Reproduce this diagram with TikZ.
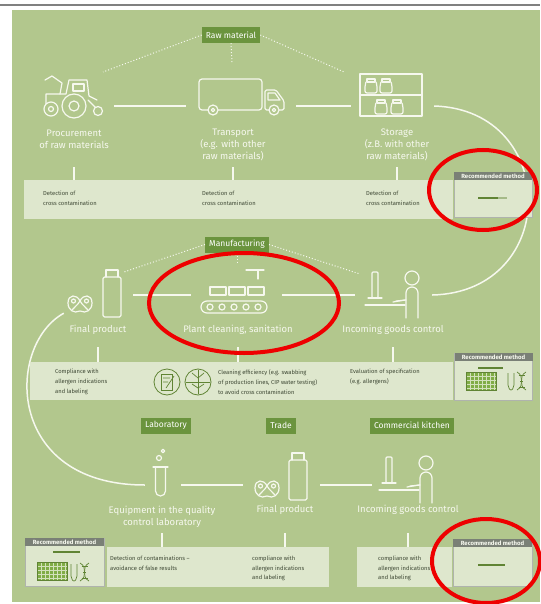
\documentclass[tikz,border=0pt]{standalone}
\usepackage{fontspec}
\setmainfont{Fira Sans}
\usetikzlibrary{arrows}

\begin{document}
\begin{tikzpicture}[x=1pt,y=-1pt]

\definecolor{leafgreen}{RGB}{178,199,141}
\definecolor{palegreen}{RGB}{222,231,205}
\definecolor{taggreen}{RGB}{107,148,62}
\definecolor{chalk}{RGB}{246,248,238}
\definecolor{inkgrey}{RGB}{62,72,52}
\definecolor{headgrey}{RGB}{122,128,118}
\definecolor{stripgreen}{RGB}{96,132,52}
\definecolor{wellgreen}{RGB}{128,172,70}
\definecolor{markred}{RGB}{238,0,0}

\useasboundingbox (0,0) rectangle (540,604);

% Page and panel
\fill[white] (0,0) rectangle (540,604);
\draw[gray, line width=2] (0,5) -- (540,5);
\fill[leafgreen] (12,10) rectangle (540,602);

\tikzset{
    stage tag/.style={
        fill=taggreen, text=white, font=\fontsize{8.5}{10}\selectfont,
        minimum height=16, inner xsep=4, inner ysep=0
    },
    stage label/.style={
        text=chalk, font=\fontsize{9.5}{12}\selectfont, align=center, inner sep=0
    },
    icon slot/.style={minimum height=36, inner sep=0},
    icon line/.style={draw=chalk, line width=1.2, line join=round, line cap=round},
    stage link/.style={draw=chalk, line width=2},
    loop line/.style={draw=chalk, line width=1.5},
    tag link/.style={draw=chalk, dotted, line width=1},
    stem line/.style={draw=chalk, line width=1.5},
    info box/.style={fill=palegreen, inner sep=0, anchor=north west},
    info text/.style={
        text=inkgrey, font=\fontsize{5.8}{9.8}\selectfont,
        align=left, anchor=west, inner sep=0
    },
    method box/.style={
        fill=palegreen, draw=headgrey!60, line width=0.8,
        minimum width=78, minimum height=46, inner sep=0, anchor=north
    },
    method head/.style={
        fill=headgrey, text=chalk, font=\fontsize{6}{6}\selectfont\bfseries,
        minimum width=78, minimum height=8, inner sep=0, anchor=north
    },
    strip/.style={draw=stripgreen, line width=1.6},
    fine/.style={draw=stripgreen, line width=0.7},
    red ring/.style={draw=markred, line width=4},
    % small pictograms
    jar/.pic={
        \draw[icon line] (-4,-7) rectangle (4,-4);
        \draw[icon line, rounded corners=2] (-5,-4) -- (-6,-1) -- (-6,7) -- (6,7) -- (6,-1) -- (5,-4);
    },
    pretzel/.pic={
        \draw[icon line] (0,-3) .. controls (-3,-10) and (-12,-10) .. (-12,-1)
            .. controls (-12,6) and (-6,10) .. (0,7)
            .. controls (6,10) and (12,6) .. (12,-1)
            .. controls (12,-10) and (3,-10) .. (0,-3);
        \draw[icon line] (0,-3) .. controls (-3,2) and (-6,3) .. (-8,6);
        \draw[icon line] (0,-3) .. controls (3,2) and (6,3) .. (8,6);
        \draw[icon line] (-6.5,-3) circle (2) (6.5,-3) circle (2);
    },
    bottle/.pic={
        \draw[icon line, rounded corners=1.5] (-9,-16) rectangle (9,24);
        \draw[icon line] (-6,-16) -- (-6,-23) -- (6,-23) -- (6,-16);
    },
    clerk/.pic={
        \draw[icon line, rounded corners=1] (-21,-22) rectangle (-15,4);
        \draw[icon line] (-25,4) -- (-11,4);
        \draw[icon line] (-28,11) -- (12,11);
        \draw[icon line] (0,8) -- (12,6);
        \draw[icon line] (19,-16) circle (7);
        \draw[icon line] (13,24) -- (13,-1) arc (180:360:6) -- (25,24);
        \draw[icon line] (13,6) -- (3,7);
    },
    plate/.pic={
        \fill[wellgreen] (-15,-9) rectangle (15,9);
        \foreach \gx in {-11,-7,...,13} \draw[chalk!70!wellgreen, line width=0.4] (\gx,-9) -- (\gx,9);
        \foreach \gy in {-5,-1,3,7} \draw[chalk!70!wellgreen, line width=0.4] (-15,\gy) -- (15,\gy);
        \draw[fine] (-15,-9) rectangle (15,9);
    },
    helix/.pic={
        \draw[fine, rounded corners=2] (-9,-8) -- (-9,6) -- (-6,10) -- (-3,6) -- (-3,-8);
        \draw[fine] (0,-9) .. controls (9,-4) and (0,4) .. (9,9);
        \draw[fine] (9,-9) .. controls (0,-4) and (9,4) .. (0,9);
        \draw[fine] (1.5,-6) -- (7.5,-6) (1.5,6) -- (7.5,6) (3,0) -- (6,0);
    }
}

% --- STAGE SLOTS (the rows hook onto these) ---
\node[icon slot, minimum width=80]  (procure)   at (74,106) {};
\node[icon slot, minimum width=110] (transport) at (241,106) {};
\node[icon slot, minimum width=83]  (storage)   at (392.5,106) {};

\node[icon slot, minimum width=80] (productA) at (93,295) {};
\node[icon slot, minimum width=91] (cleaning) at (236.5,295) {};
\node[icon slot, minimum width=77] (goodsA)   at (393.5,295) {};

\node[icon slot, minimum width=36] (labware)  at (163,485) {};
\node[icon slot, minimum width=77] (productB) at (281.5,485) {};
\node[icon slot, minimum width=68] (goodsB)   at (406,485) {};

% --- FLOW LINES ---
\draw[stage link] (procure) -- (transport);
\draw[stage link] (transport) -- (storage);
\draw[stage link] (productA) -- (cleaning);
\draw[stage link] (cleaning) -- (goodsA);
\draw[stage link] (labware) -- (productB);
\draw[stage link] (productB) -- (goodsB);

\draw[loop line] (storage.east) .. controls +(126,4) and +(128,-3) .. (goodsA.east);
\draw[loop line] ([xshift=11]productA.south west) .. controls +(-58,32) and +(-140,0) .. (labware.west);

% --- STAGE TAGS ---
\node[stage tag] (raw)     at (231,35)    {Raw material};
\node[stage tag] (manu)    at (237,244.5) {Manufacturing};
\node[stage tag] (lab)     at (166,425.5) {Laboratory};
\node[stage tag] (trade)   at (281,425.5) {Trade};
\node[stage tag] (kitchen) at (412,425.5) {Commercial kitchen};

\coordinate (rawL) at (103,72);
\coordinate (rawR) at (344,72);
\coordinate (rawD) at (232,63);
\draw[tag link] (raw.west) -- (rawL);
\draw[tag link] (raw.east) -- (rawR);
\draw[tag link] (raw.south) -- (rawD);

\coordinate (manuL) at (124,272);
\coordinate (manuR) at (360,274);
\coordinate (manuD) at (237,262);
\draw[tag link] (manu.west) -- (manuL);
\draw[tag link] (manu.east) -- (manuR);
\draw[tag link] (manu.south) -- (manuD);

% --- ICONS ---
% harvester
\draw[icon line] (46,104) -- (46,94) -- (66,94) -- (69,80) -- (87,80) -- (89,96) -- (97,100);
\draw[icon line] (73,84) rectangle (84,91);
\draw[icon line] (45,80) -- (52,76) -- (62,83) -- (60,94);
\draw[icon line] (88,100) -- (96,108);
\draw[icon line, fill=leafgreen] (51,109) circle (7);
\draw[icon line] (51,109) circle (2.5);
\draw[icon line, fill=leafgreen] (74,106) circle (12);
\draw[icon line] (74,106) circle (5);
\draw[icon line, fill=leafgreen] (98,111) circle (4.5);

% truck
\draw[icon line, rounded corners=3] (199,79) rectangle (262,110);
\draw[icon line, rounded corners=1.5] (265,110) -- (265,90) -- (276,90) -- (284,101) -- (284,110) -- cycle;
\draw[icon line] (268,93) -- (275,93) -- (280,100) -- (268,100) -- cycle;
\draw[icon line, fill=leafgreen] (213,110) circle (5);
\draw[icon line] (213,110) circle (1.8);
\draw[icon line, fill=leafgreen] (274,110) circle (5);
\draw[icon line] (274,110) circle (1.8);

% shelf with jars
\draw[icon line] (360,74) rectangle (422,116);
\draw[icon line] (360,95) -- (422,95);
\pic at (371,86) {jar};
\pic at (386,86) {jar};
\pic at (381,107) {jar};
\pic at (397,107) {jar};

% final product, manufacturing
\pic at (80,304) {pretzel};
\pic at (112,293) {bottle};

% conveyor
\draw[icon line] (246,270) -- (264,270) (258,270) -- (258,279);
\foreach \bx in {210,229,248} \draw[icon line] (\bx,287) rectangle ++(16,8);
\draw[icon line, rounded corners=6] (201,301) rectangle (267,313);
\foreach \rx in {210,222,234,246,258} \draw[icon line] (\rx,307) circle (3);

\pic at (393,294) {clerk};

% test tube
\draw[icon line] (153,467) -- (168,467);
\draw[icon line] (155.5,467) -- (155.5,491) arc (180:0:5) -- (165.5,467);
\draw[icon line] (159,458) circle (2.5) (163,451) circle (1.8);

% final product, trade
\pic at (267,489) {pretzel};
\pic at (298,476) {bottle};

\pic at (407,479) {clerk};

% --- STAGE LABELS ---
\node[stage label] (procureL)   at (74,139)  {Procurement\\of raw materials};
\node[stage label] (transportL) at (233,145) {Transport\\(e.g. with other\\raw materials)};
\node[stage label] (storageL)   at (397,145) {Storage\\(z.B. with other\\raw materials)};

\node[stage label] (productAL) at (98,330)  {Final product};
\node[stage label] (cleaningL) at (238,330) {Plant cleaning, sanitation};
\node[stage label] (goodsAL)   at (393,330) {Incoming goods control};

\node[stage label] (labwareL)  at (162,516.5) {Equipment in the quality\\control laboratory};
\node[stage label] (productBL) at (285,510)   {Final product};
\node[stage label] (goodsBL)   at (408,510)   {Incoming goods control};

% --- INFO STRIPS ---
\node[info box, minimum width=429, minimum height=39] (rawinfo)     at (24,180)  {};
\node[info box, minimum width=423, minimum height=38] (manuinfo)    at (30,362)  {};
\node[info box, minimum width=222, minimum height=40] (labinfo)     at (107,547) {};
\node[info box, minimum width=95,  minimum height=40] (kitcheninfo) at (357,547) {};

\draw[stem line] (procureL.south |- 0,167)   -- (procureL.south |- rawinfo.north);
\draw[stem line] (transportL.south |- 0,167) -- (transportL.south |- rawinfo.north);
\draw[stem line] (storageL.south |- 0,167)   -- (storageL.south |- rawinfo.north);

\draw[stem line] (productAL.south |- 0,347) -- (productAL.south |- manuinfo.north);
\draw[stem line] (cleaningL.south |- 0,347) -- (cleaningL.south |- manuinfo.north);
\draw[stem line] (goodsAL.south |- 0,347)   -- (goodsAL.south |- manuinfo.north);

\draw[stem line] (labwareL.south |- 0,533)  -- (labwareL.south |- labinfo.north);
\draw[stem line] (productBL.south |- 0,533) -- (productBL.south |- labinfo.north);
\draw[stem line] (goodsBL.south |- 0,533)   -- (goodsBL.south |- kitcheninfo.north);

\node[info text] (procureI)   at (43,198)  {Detection of\\cross contamination};
\node[info text] (transportI) at (202,198) {Detection of\\cross contamination};
\node[info text] (storageI)   at (366,198) {Detection of\\cross contamination};

\node[info text] (productAI) at (55,382) {Compliance with\\allergen indications\\and labeling};
\node[draw=stripgreen, circle, line width=0.8, minimum size=26, inner sep=0] (swabicon) at (167,382) {};
\node[draw=stripgreen, circle, line width=0.8, minimum size=26, inner sep=0] (cipicon) at (198,382) {};
\draw[fine] (161,374) rectangle (172,390);
\draw[fine] (163,378) -- (170,378) (163,382) -- (168,382) (166,388) -- (174,376);
\draw[fine] (198,370) -- (198,394) (186,382) -- (210,382);
\draw[fine] (198,378) -- (192,373) (198,378) -- (204,373) (198,388) -- (192,384) (198,388) -- (204,384);
\node[info text] (cleaningI) at (218,382) {Cleaning efficiency (e.g. swabbing\\of production lines, CIP water testing)\\to avoid cross contamination};
\node[info text] (goodsAI)   at (350,377) {Evaluation of specification\\(e.g. allergens)};

\node[info text] (labwareI)  at (110,563.5) {Detection of contaminations –\\avoidance of false results};
\node[info text] (productBI) at (252,568.5) {compliance with\\allergen indications\\and labeling};
\node[info text] (goodsBI)   at (378,568.5) {compliance with\\allergen indications\\and labeling};

% --- RECOMMENDED METHOD BOXES ---
\node[method box, minimum height=45] (methodA) at (493,172) {};
\node[method head] (methodAh) at (methodA.north) {Recommended method};
\node[method box, minimum height=47] (methodB) at (493.5,353) {};
\node[method head] (methodBh) at (methodB.north) {Recommended method};
\node[method box, minimum height=48, minimum width=79] (methodC) at (64.5,538) {};
\node[method head, minimum width=79] (methodCh) at (methodC.north) {Recommended method};
\node[method box, minimum height=47, minimum width=79] (methodD) at (492.5,539) {};
\node[method head, minimum width=79] (methodDh) at (methodD.north) {Recommended method};

\draw[strip] (478,198) -- (498,198);
\draw[strip, stripgreen!45!palegreen] (498,198) -- (507,198);
\draw[strip] (478,368) -- (503,368);
\pic at (481,381) {plate};
\pic at (517,381) {helix};
\draw[strip] (53,552) -- (80,552);
\pic at (52,571) {plate};
\pic at (80,572) {helix};
\draw[strip] (478,565) -- (505,565);

% --- RED MARKINGS ---
\draw[red ring] (483,190) ellipse [x radius=54, y radius=40];
\draw[red ring] (244,303) ellipse [x radius=95, y radius=50];
\draw[red ring] (486,561) ellipse [x radius=54, y radius=42];

\end{tikzpicture}
\end{document}
